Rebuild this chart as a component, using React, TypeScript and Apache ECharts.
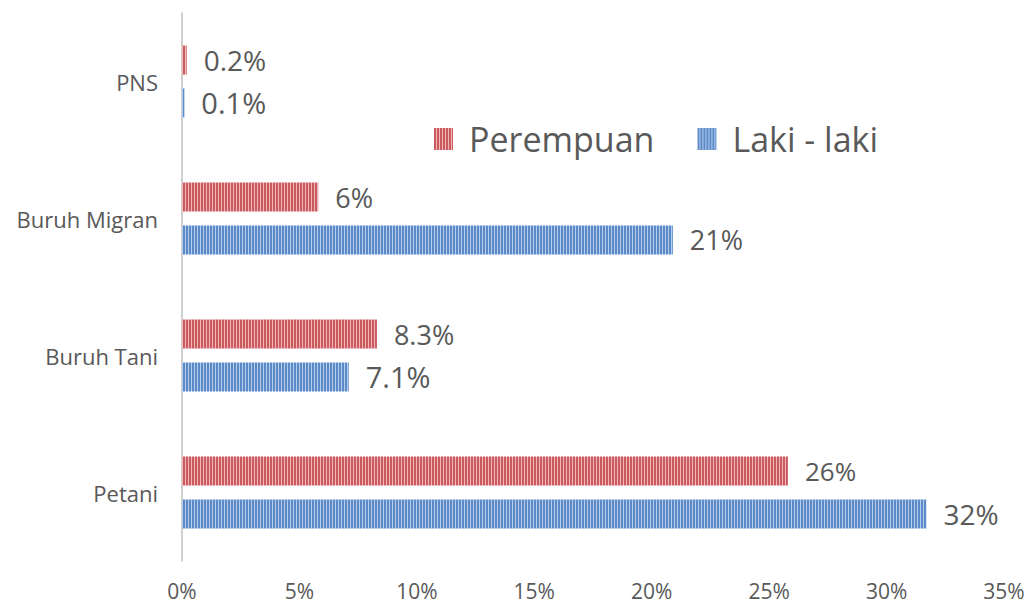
import React, { useEffect, useRef } from "react";
import * as echarts from "echarts";

const categories = ["Petani", "Buruh Tani", "Buruh Migran", "PNS"];
const perempuan = [25.8, 8.3, 5.8, 0.2];
const lakiLaki = [31.7, 7.1, 20.9, 0.1];
const perempuanLabels = ["26%", "8.3%", "6%", "0.2%"];
const lakiLabels = ["32%", "7.1%", "21%", "0.1%"];
const perempuanLabelSizes = [26, 27, 27, 28];
const lakiLabelSizes = [28, 29, 27, 29];
const xMin = 0;
const xMax = 35;
const xInterval = 5;

function stripe(dark: string, light: string) {
  const c = document.createElement("canvas");
  c.width = 3;
  c.height = 4;
  const ctx = c.getContext("2d")!;
  ctx.fillStyle = dark;
  ctx.fillRect(0, 0, 2, 4);
  ctx.fillStyle = light;
  ctx.fillRect(2, 0, 1, 4);
  return { image: c, repeat: "repeat" as const };
}

const FONT = "Open Sans";
const TXT = "#595959";

export default function App() {
  const ref = useRef<HTMLDivElement>(null);
  useEffect(() => {
    const chart = echarts.init(ref.current!, undefined, { renderer: "svg" });
    const redPat = stripe("#c95a5d", "#f2b8b9");
    const bluePat = stripe("#5b8ac6", "#b5cef0");
    chart.setOption({
      animation: false,
      textStyle: { fontFamily: FONT },
      legend: {
        left: 429,
        top: 117,
        itemWidth: 19,
        itemHeight: 22,
        itemGap: 43,
        icon: "rect",
        textStyle: { fontSize: 34, color: TXT, fontFamily: FONT, padding: [0, 0, 0, 11] },
        data: ["Perempuan", "Laki - laki"],
      },
      grid: { left: 182, right: 32, top: 13, bottom: 45, containLabel: false },
      xAxis: {
        type: "value",
        min: xMin,
        max: xMax,
        interval: xInterval,
        axisLine: { show: false },
        axisTick: { show: false },
        splitLine: { show: false },
        axisLabel: {
          formatter: "{value}%",
          fontSize: 21,
          lineHeight: 20,
          color: TXT,
          margin: 20,
          fontFamily: FONT,
        },
      },
      yAxis: {
        type: "category",
        data: categories,
        axisLine: { show: true, lineStyle: { color: "#bfbfbf", width: 1.5 } },
        axisTick: { show: false },
        axisLabel: { fontSize: 22, color: TXT, margin: 24, fontFamily: FONT },
      },
      series: [
        {
          name: "Perempuan",
          type: "bar",
          barWidth: 29,
          barGap: "48%",
          itemStyle: { color: redPat as any },
          data: perempuan.map((v, i) => ({
            value: v,
            label: {
              show: true,
              position: "right",
              distance: 17,
              formatter: perempuanLabels[i],
              fontSize: perempuanLabelSizes[i],
              color: TXT,
              fontFamily: FONT,
            },
          })),
        },
        {
          name: "Laki - laki",
          type: "bar",
          barWidth: 29,
          barGap: "48%",
          itemStyle: { color: bluePat as any },
          data: lakiLaki.map((v, i) => ({
            value: v,
            label: {
              show: true,
              position: "right",
              distance: 17,
              formatter: lakiLabels[i],
              fontSize: lakiLabelSizes[i],
              color: TXT,
              fontFamily: FONT,
            },
          })),
        },
      ],
    });
    return () => chart.dispose();
  }, []);
  return <div ref={ref} style={{ width: 1036, height: 606, position: "absolute", left: 0, top: 0 }} />;
}
